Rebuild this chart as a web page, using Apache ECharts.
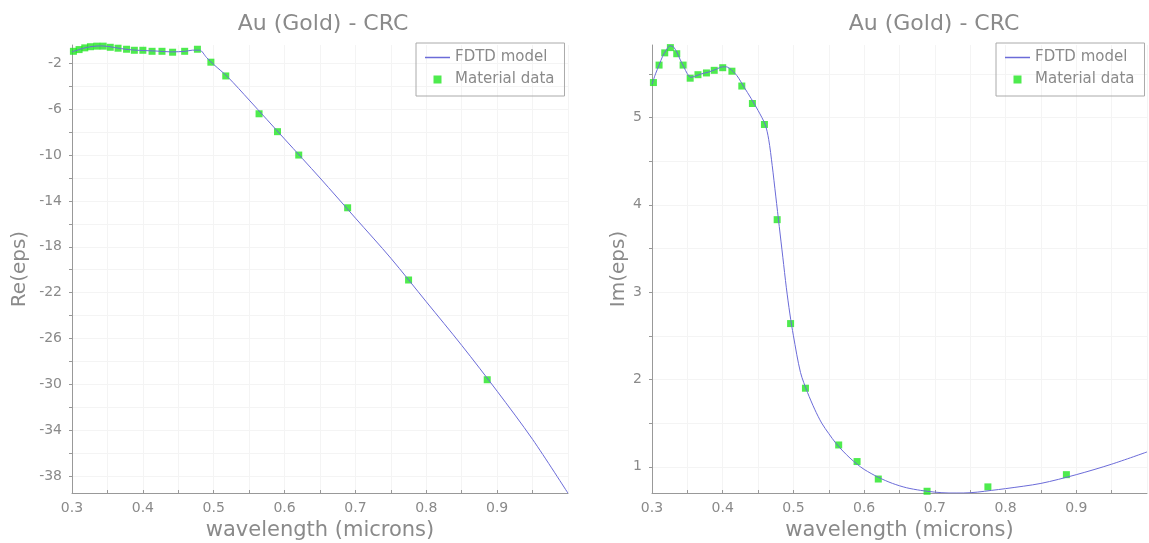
<!DOCTYPE html>
<html>
<head>
<meta charset="utf-8">
<script src="https://cdn.jsdelivr.net/npm/echarts@6/dist/echarts.min.js"></script>
<style>
  html, body { margin: 0; padding: 0; background: #fff; }
  #main { width: 1149px; height: 543px; }
</style>
</head>
<body>
<div id="main"></div>
<script>
// Material data (CRC), wavelengths in microns
var dataWl = [0.302, 0.310, 0.318, 0.326, 0.335, 0.344, 0.354, 0.365, 0.377, 0.388, 0.400, 0.413, 0.427, 0.442, 0.459, 0.477, 0.496, 0.517, 0.564, 0.590, 0.620, 0.689, 0.775, 0.886];
var dataRe = [-0.95, -0.8, -0.65, -0.55, -0.5, -0.5, -0.6, -0.68, -0.77, -0.86, -0.86, -0.95, -0.95, -1.03, -0.95, -0.77, -1.9, -3.1, -6.4, -7.96, -10.0, -14.6, -20.9, -29.6];
var dataIm = [5.40, 5.60, 5.74, 5.80, 5.73, 5.60, 5.45, 5.49, 5.51, 5.54, 5.57, 5.53, 5.36, 5.16, 4.92, 3.83, 2.64, 1.90, 1.25, 1.06, 0.86, 0.72, 0.77, 0.91];

// FDTD model curves
var modelWlRe = [0.30, 0.31, 0.32, 0.33, 0.34, 0.35, 0.36, 0.37, 0.38, 0.39, 0.40, 0.42, 0.44, 0.46, 0.47, 0.48, 0.49, 0.50, 0.52, 0.55, 0.60, 0.65, 0.70, 0.75, 0.80, 0.85, 0.90, 0.95, 1.00];
var modelRe = [-1.0, -0.8, -0.62, -0.52, -0.48, -0.52, -0.62, -0.72, -0.8, -0.85, -0.88, -0.93, -1.0, -0.95, -0.85, -0.85, -1.5, -2.1, -3.2, -5.2, -8.6, -12.0, -15.5, -19.0, -22.8, -26.6, -30.6, -34.8, -39.5];

var modelWlIm = [0.30, 0.305, 0.31, 0.315, 0.32, 0.325, 0.33, 0.335, 0.34, 0.345, 0.35, 0.355, 0.36, 0.37, 0.38, 0.39, 0.40, 0.405, 0.41, 0.42, 0.43, 0.44, 0.45, 0.46, 0.465, 0.47, 0.475, 0.48, 0.485, 0.49, 0.495, 0.50, 0.51, 0.52, 0.53, 0.54, 0.55, 0.56, 0.57, 0.58, 0.59, 0.60, 0.62, 0.64, 0.66, 0.68, 0.70, 0.72, 0.74, 0.76, 0.78, 0.80, 0.85, 0.90, 0.95, 1.00];
var modelIm = [5.38, 5.5, 5.6, 5.7, 5.77, 5.82, 5.81, 5.75, 5.66, 5.58, 5.50, 5.46, 5.47, 5.50, 5.52, 5.55, 5.58, 5.58, 5.56, 5.48, 5.35, 5.22, 5.08, 4.92, 4.75, 4.45, 4.1, 3.75, 3.4, 3.05, 2.75, 2.5, 2.08, 1.85, 1.66, 1.50, 1.38, 1.27, 1.18, 1.10, 1.03, 0.97, 0.88, 0.81, 0.76, 0.73, 0.71, 0.70, 0.70, 0.71, 0.73, 0.75, 0.81, 0.91, 1.03, 1.17];

var reTicks = [-38, -36, -34, -32, -30, -28, -26, -24, -22, -20, -18, -16, -14, -12, -10, -8, -6, -4, -2];
var reLabels = [-38, -34, -30, -26, -22, -18, -14, -10, -6, -2];
var imTicks = [1, 1.5, 2, 2.5, 3, 3.5, 4, 4.5, 5, 5.5];
var imLabels = [1, 2, 3, 4, 5];

function pairs(xs, ys) {
	var out = [];
	for (var i = 0; i < xs.length; i++) out.push([xs[i], ys[i]]);
	return out;
}

var grey = '#8a8a8a';
var font = 'DejaVu Sans';
var lineColor = '#6b6bd8';
var dotColor = '#22e622';

function xAxisFor(gi) {
	return {
		type: 'value', gridIndex: gi, min: 0.3, max: 1.0, interval: 0.05,
		name: 'wavelength (microns)', nameLocation: 'middle', nameGap: 26,
		nameTextStyle: { color: grey, fontSize: 21, fontFamily: font },
		axisLine: { lineStyle: { color: '#999' } },
		axisTick: { inside: true, length: 3, lineStyle: { color: '#999' } },
		axisLabel: {
			color: grey, fontSize: 14, fontFamily: font, margin: 8, showMaxLabel: false,
			formatter: function (v) {
				var t = v * 10;
				if (Math.abs(t - Math.round(t)) < 1e-6 && v < 0.95) return v.toFixed(1);
				return '';
			}
		},
		splitLine: { show: true, lineStyle: { color: '#f4f4f4' } }
	};
}

function yAxisFor(gi, name, min, max, ticks, labels, gap) {
	return {
		type: 'value', gridIndex: gi, min: min, max: max,
		name: name, nameLocation: 'middle', nameGap: gap,
		nameTextStyle: { color: grey, fontSize: 20, fontFamily: font },
		axisLine: { show: true, lineStyle: { color: '#999' } },
		axisTick: { show: true, length: 3, customValues: ticks, lineStyle: { color: '#999' } },
		axisLabel: { color: grey, fontSize: 14, fontFamily: font, margin: 10, customValues: labels },
		splitLine: { show: true, lineStyle: { color: '#f4f4f4' } }
	};
}

function legendAt(left) {
	return {
		left: left, top: 43, orient: 'vertical',
		data: [
			{ name: 'FDTD model', icon: 'path://M0,0 H25 V1.5 H0 Z',
			  itemStyle: { color: lineColor, borderWidth: 0 }, lineStyle: { color: lineColor, width: 0 } },
			{ name: 'Material data', icon: 'path://M0,0 H1 V1 H0 Z',
			  itemStyle: { color: dotColor, borderWidth: 0 } }
		],
		symbolKeepAspect: true,
		borderColor: '#aaa', borderWidth: 1, padding: [7, 10, 9, 9],
		itemWidth: 25, itemHeight: 8, itemGap: 7,
		textStyle: { color: grey, fontSize: 15, fontFamily: font }
	};
}

var chart = echarts.init(document.getElementById('main'));
chart.setOption({
	animation: false,
	title: [
		{ text: 'Au (Gold) - CRC', left: 318, top: 8, textAlign: 'center', textStyle: { color: grey, fontSize: 22, fontWeight: 'normal', fontFamily: font } },
		{ text: 'Au (Gold) - CRC', left: 929, top: 8, textAlign: 'center', textStyle: { color: grey, fontSize: 22, fontWeight: 'normal', fontFamily: font } }
	],
	legend: [legendAt(416), legendAt(996)],
	grid: [
		{ left: 72, right: 581, top: 45, bottom: 50, outerBoundsMode: 'none' },
		{ left: 652, right: 2, top: 45, bottom: 50, outerBoundsMode: 'none' }
	],
	xAxis: [xAxisFor(0), xAxisFor(1)],
	yAxis: [
		yAxisFor(0, 'Re(eps)', -39.48, -0.4, reTicks, reLabels, 42),
		yAxisFor(1, 'Im(eps)', 0.70, 5.83, imTicks, imLabels, 22)
	],
	series: [
		{ name: 'FDTD model', type: 'line', xAxisIndex: 0, yAxisIndex: 0, symbol: 'none', smooth: 0.3,
		  lineStyle: { color: lineColor, width: 1 }, itemStyle: { color: lineColor }, data: pairs(modelWlRe, modelRe) },
		{ name: 'Material data', type: 'scatter', xAxisIndex: 0, yAxisIndex: 0, symbol: 'rect', symbolSize: 7,
		  itemStyle: { color: dotColor }, data: pairs(dataWl, dataRe) },
		{ name: 'FDTD model', type: 'line', xAxisIndex: 1, yAxisIndex: 1, symbol: 'none', smooth: 0.3,
		  lineStyle: { color: lineColor, width: 1 }, itemStyle: { color: lineColor }, data: pairs(modelWlIm, modelIm) },
		{ name: 'Material data', type: 'scatter', xAxisIndex: 1, yAxisIndex: 1, symbol: 'rect', symbolSize: 7,
		  itemStyle: { color: dotColor }, data: pairs(dataWl, dataIm) }
	]
});
</script>
</body>
</html>
